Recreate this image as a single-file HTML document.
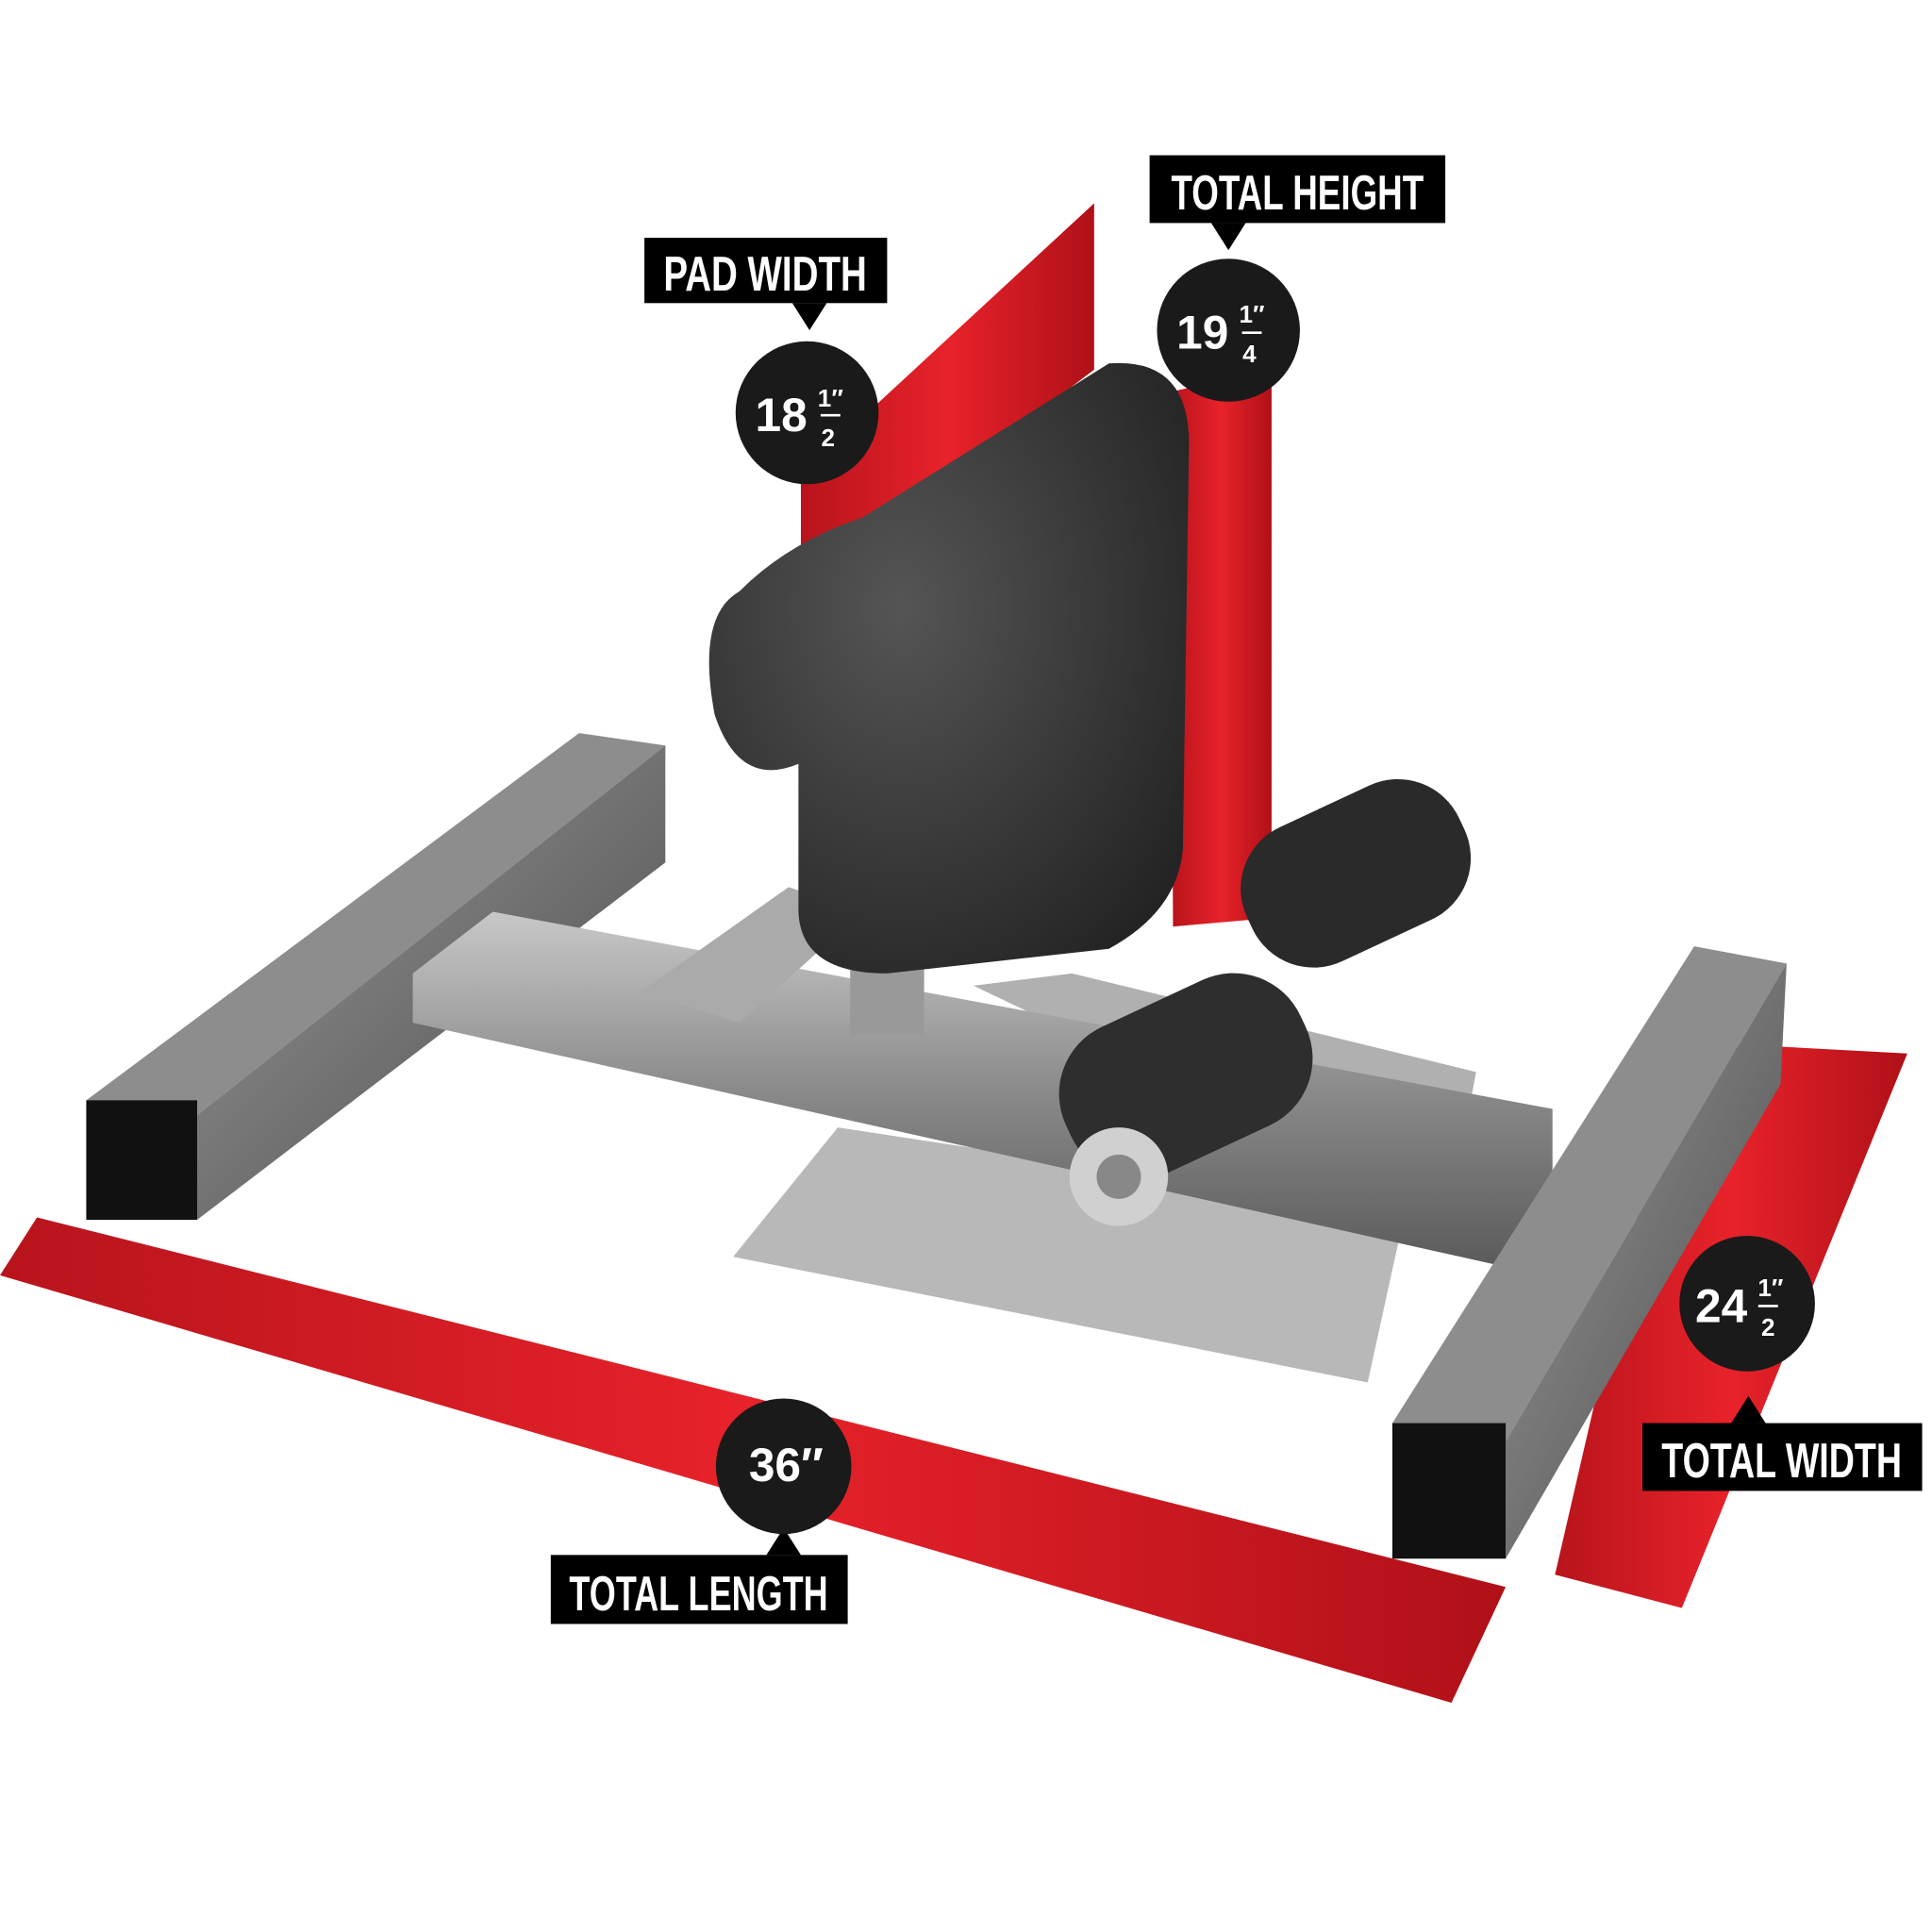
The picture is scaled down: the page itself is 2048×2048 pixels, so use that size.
<!DOCTYPE html>
<html><head><style>
html,body{margin:0;padding:0;background:#fff;}
svg{display:block}
text{font-family:"Liberation Sans",sans-serif;font-weight:bold;}
</style></head><body>
<svg width="2048" height="2048" viewBox="0 0 1568 1568" xmlns="http://www.w3.org/2000/svg">
<defs>
<linearGradient id="red" x1="0" y1="0" x2="1" y2="0">
<stop offset="0" stop-color="#b8141c"/><stop offset="0.5" stop-color="#e8222a"/><stop offset="1" stop-color="#b01018"/></linearGradient>
<linearGradient id="metal" x1="0" y1="0" x2="0" y2="1">
<stop offset="0" stop-color="#c8c8c8"/><stop offset="0.5" stop-color="#8a8a8a"/><stop offset="1" stop-color="#5a5a5a"/></linearGradient>
<linearGradient id="rail" x1="0" y1="0" x2="1" y2="1">
<stop offset="0" stop-color="#9a9a9a"/><stop offset="1" stop-color="#4a4a4a"/></linearGradient>
<radialGradient id="pad" cx="0.4" cy="0.4" r="0.8">
<stop offset="0" stop-color="#555"/><stop offset="1" stop-color="#1e1e1e"/></radialGradient>
</defs>
<rect width="1568" height="1568" fill="#fff"/>
<!-- red bands -->
<polygon points="30,988 1222,1288 1178,1382 0,1035" fill="url(#red)"/>
<polygon points="1362,845 1548,855 1365,1305 1262,1278" fill="url(#red)"/>
<polygon points="650,385 888,165 888,300 650,480" fill="url(#red)"/>
<polygon points="950,318 1032,300 1032,745 952,752" fill="url(#red)"/>
<!-- diamond plate -->
<polygon points="595,1020 680,915 1140,985 1110,1122" fill="#b8b8b8"/>
<polygon points="790,800 870,790 1198,870 1185,940 1000,900" fill="#b0b0b0"/>
<!-- left rail -->
<polygon points="70,893 470,595 540,605 160,905" fill="#8d8d8d"/>
<polygon points="160,905 540,605 540,700 160,990" fill="url(#rail)"/>
<rect x="70" y="893" width="90" height="97" fill="#111"/>
<!-- crossbar -->
<polygon points="335,790 400,740 1260,900 1260,1000 1230,1030 335,830" fill="url(#metal)"/>
<polygon points="520,805 640,720 700,740 600,830" fill="#aaa"/>
<rect x="690" y="780" width="60" height="60" fill="#999"/>
<!-- right rail -->
<polygon points="1130,1155 1375,768 1450,782 1222,1170" fill="#8d8d8d"/>
<polygon points="1222,1170 1450,782 1445,880 1222,1265" fill="url(#rail)"/>
<rect x="1130" y="1155" width="92" height="110" fill="#111"/>
<!-- pad -->
<path d="M600,480 Q640,440 700,420 L900,295 Q965,290 965,360 L960,690 Q955,740 900,770 L720,790 Q650,790 648,740 L648,620 Q600,640 580,580 Q565,500 600,480 Z" fill="url(#pad)"/>
<!-- rollers -->
<g transform="rotate(-25 1100 720)"><rect x="1010" y="650" width="190" height="120" rx="55" fill="#2a2a2a"/></g>
<g transform="rotate(-25 960 880)"><rect x="860" y="810" width="210" height="130" rx="60" fill="#2e2e2e"/></g>
<circle cx="908" cy="955" r="40" fill="#d0d0d0"/><circle cx="908" cy="955" r="18" fill="#888"/>
<!-- labels -->
<g fill="#000">
<rect x="523" y="193" width="197" height="53"/><polygon points="643,246 671,246 657,268"/>
<rect x="933" y="126" width="240" height="55"/><polygon points="983,181 1011,181 997,203"/>
<rect x="447" y="1262" width="241" height="56"/><polygon points="622,1262 650,1262 636,1240"/>
<rect x="1333" y="1155" width="227" height="55"/><polygon points="1405,1155 1433,1155 1419,1133"/>
</g>
<g fill="#1a1a1a">
<circle cx="655" cy="335" r="58"/><circle cx="997" cy="268" r="58"/>
<circle cx="636" cy="1190" r="55"/><circle cx="1418" cy="1058" r="55"/>
</g>
<g fill="#fff" text-anchor="middle">
<text x="621" y="236" font-size="40" textLength="165" lengthAdjust="spacingAndGlyphs">PAD WIDTH</text>
<text x="1053" y="170" font-size="40" textLength="205" lengthAdjust="spacingAndGlyphs">TOTAL HEIGHT</text>
<text x="567" y="1307" font-size="40" textLength="210" lengthAdjust="spacingAndGlyphs">TOTAL LENGTH</text>
<text x="1446" y="1199" font-size="40" textLength="195" lengthAdjust="spacingAndGlyphs">TOTAL WIDTH</text>
<text x="634" y="350" font-size="38">18</text><text x="674" y="330" font-size="20">1″</text><text x="672" y="362" font-size="20">2</text>
<text x="976" y="283" font-size="38">19</text><text x="1016" y="262" font-size="20">1″</text><text x="1014" y="294" font-size="20">4</text>
<text x="638" y="1202" font-size="38">36″</text>
<text x="1397" y="1073" font-size="38">24</text><text x="1437" y="1052" font-size="20">1″</text><text x="1435" y="1084" font-size="20">2</text>
</g>
<g stroke="#fff" stroke-width="2">
<line x1="666" y1="337" x2="682" y2="337"/><line x1="1008" y1="270" x2="1024" y2="270"/><line x1="1427" y1="1060" x2="1443" y2="1060"/>
</g>
</svg>
</body></html>
